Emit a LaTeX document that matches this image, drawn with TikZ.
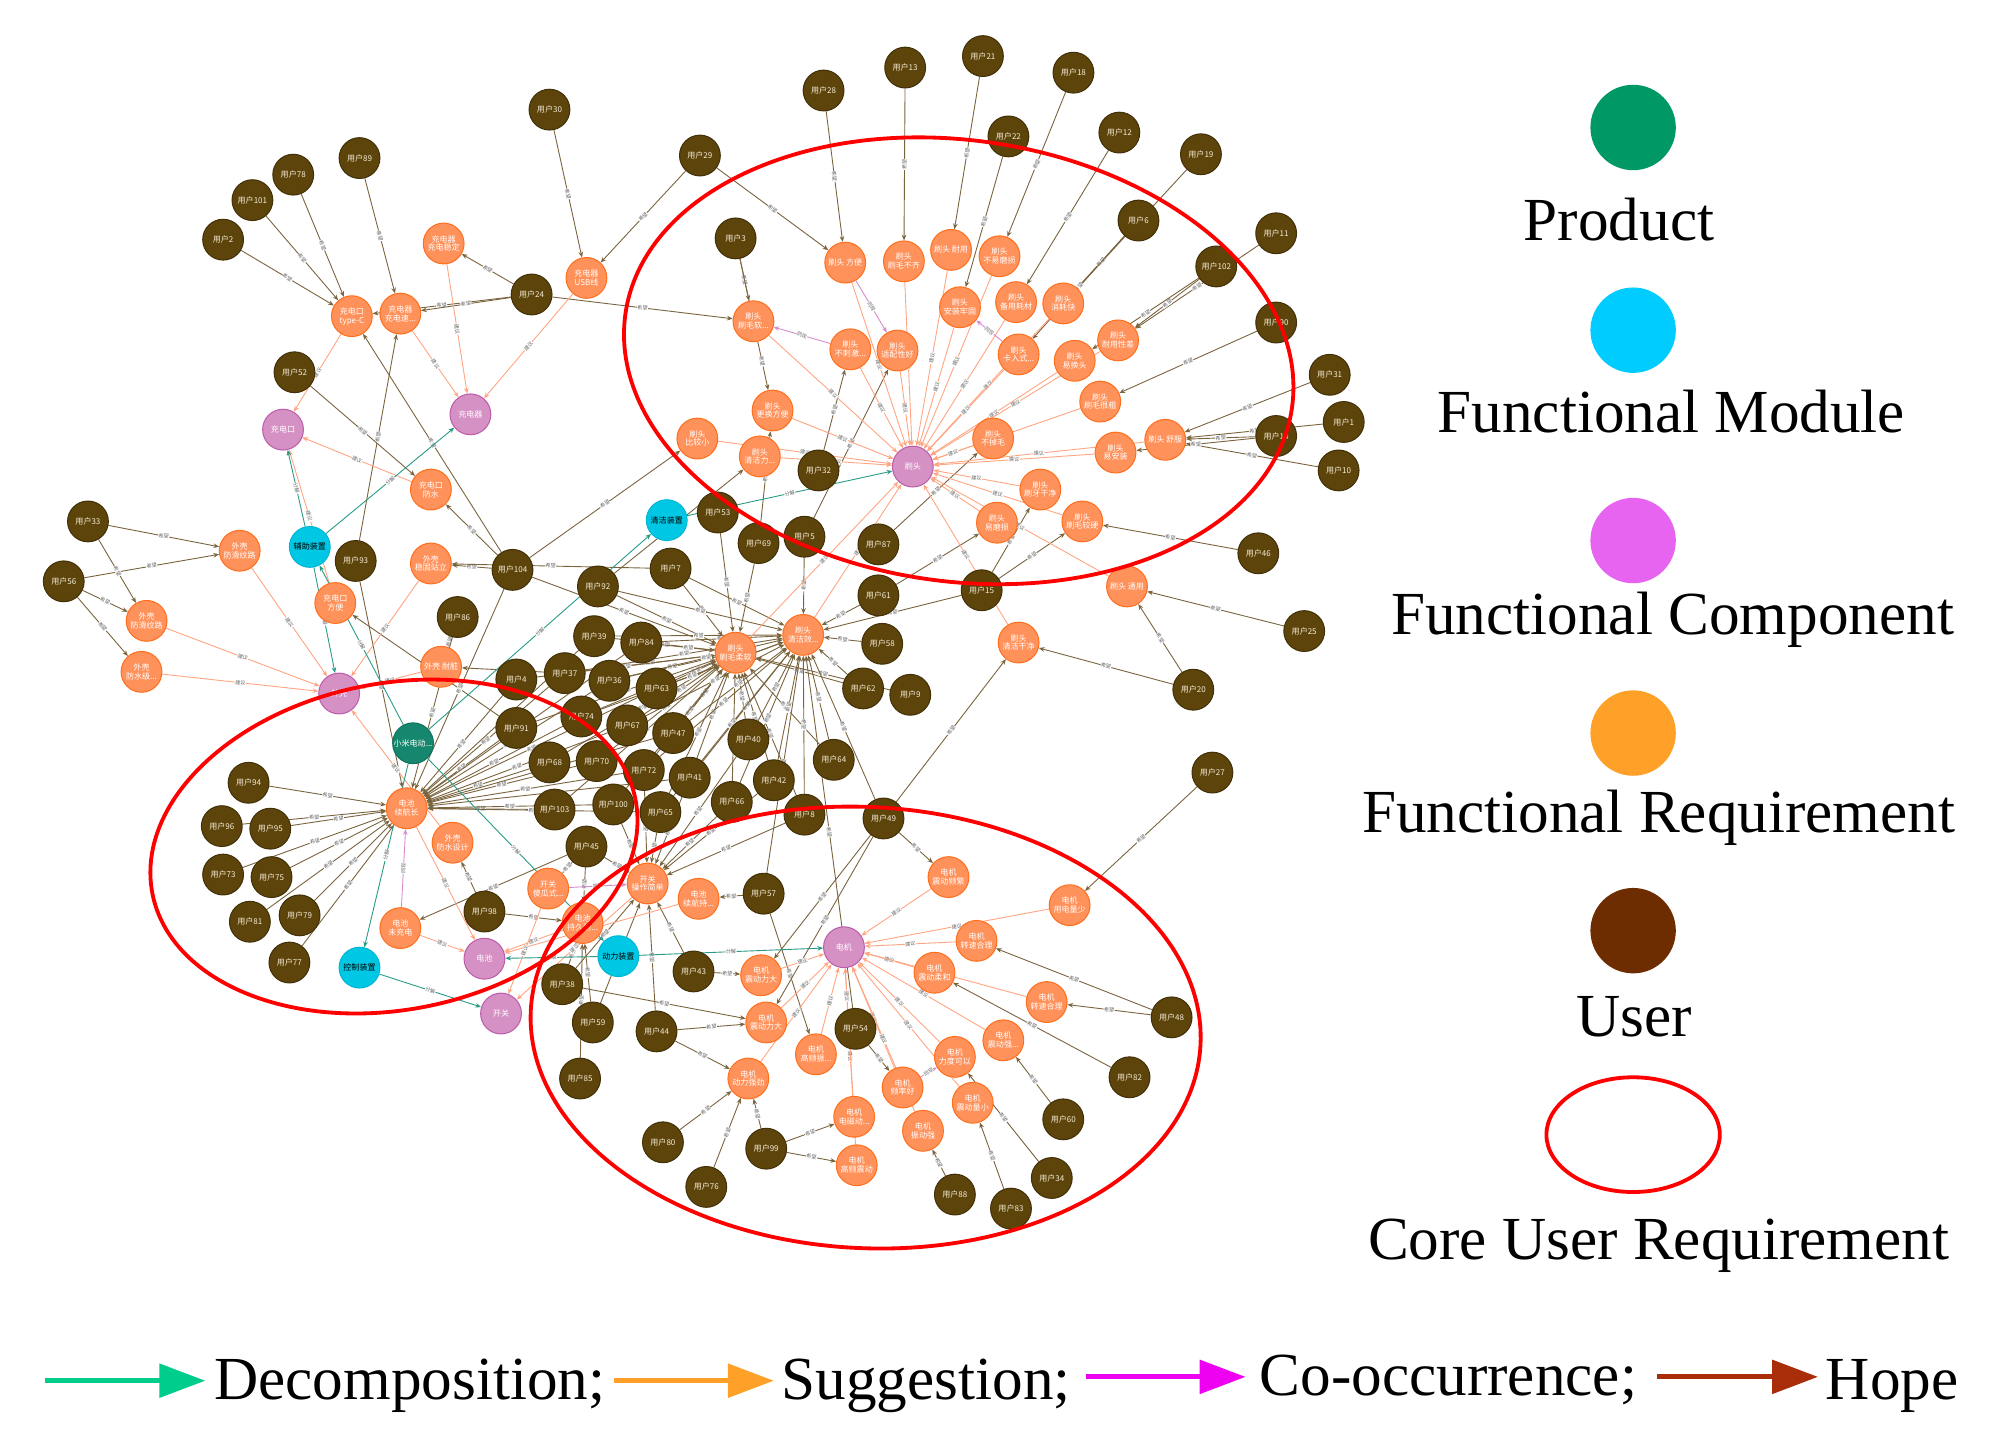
\documentclass[tikz,border=0pt]{standalone}
\usepackage{fontspec}
\setmainfont{Liberation Serif}
\newfontfamily\cjk{Noto Sans CJK SC}
\usetikzlibrary{arrows.meta,backgrounds}
\definecolor{uFill}{RGB}{93,68,11}
\definecolor{uDraw}{RGB}{66,48,8}
\definecolor{uText}{RGB}{245,236,215}
\definecolor{rFill}{RGB}{255,145,90}
\definecolor{rDraw}{RGB}{255,112,30}
\definecolor{cFill}{RGB}{214,145,196}
\definecolor{cDraw}{RGB}{188,92,170}
\definecolor{mFill}{RGB}{0,200,228}
\definecolor{mDraw}{RGB}{0,182,212}
\definecolor{pFill}{RGB}{22,135,110}
\definecolor{pDraw}{RGB}{15,115,95}
\definecolor{hopeC}{RGB}{122,100,62}
\definecolor{sugC}{RGB}{255,165,130}
\definecolor{decC}{RGB}{40,155,135}
\definecolor{cooC}{RGB}{216,140,208}
\definecolor{labC}{RGB}{105,105,105}
\definecolor{prodL}{RGB}{0,153,102}
\definecolor{modL}{RGB}{0,204,255}
\definecolor{compL}{RGB}{230,100,240}
\definecolor{reqL}{RGB}{255,160,40}
\definecolor{userL}{RGB}{110,45,0}
\definecolor{decA}{RGB}{0,204,140}
\definecolor{sugA}{RGB}{255,160,40}
\definecolor{cooA}{RGB}{238,0,240}
\definecolor{hopeA}{RGB}{170,45,10}
\begin{document}
\begin{tikzpicture}[x=1pt,y=-1pt,
  base/.style={circle, minimum size=32pt, inner sep=0pt, align=center,
    font=\cjk\fontsize{6.3}{6.9}\selectfont, line width=0.8pt},
  user/.style={base, fill=uFill, draw=uDraw, text=uText},
  req/.style={base, fill=rFill, draw=rDraw, text=white},
  comp/.style={base, fill=cFill, draw=cDraw, text=white},
  modu/.style={base, fill=mFill, draw=mDraw, text=black},
  prodn/.style={base, fill=pFill, draw=pDraw, text=white},
  hopeE/.style={draw=hopeC, line width=0.7pt, -{Stealth[length=4.5pt,width=3.6pt]}},
  sugE/.style={draw=sugC, line width=0.7pt, -{Stealth[length=4.5pt,width=3.6pt]}},
  decE/.style={draw=decC, line width=0.7pt, -{Stealth[length=4.5pt,width=3.6pt]}},
  cooE/.style={draw=cooC, line width=0.7pt, -{Stealth[length=4.5pt,width=3.6pt]}},
  elab/.style={font=\cjk\fontsize{4}{4}\selectfont, text=labC, fill=white, inner sep=0.3pt, sloped},
  core/.style={draw=red, line width=3pt},
  legtxt/.style={font=\fontsize{48}{56}\selectfont, inner sep=0pt},
  legarrow/.style={line width=4pt, -{Triangle[length=36pt,width=26pt]}}
]
\useasboundingbox (0,0) rectangle (1568,1131);

% ---------------- users ----------------
\foreach \nn/\px/\py in {1/1054/331, 2/175/188, 3/577/187, 4/405/533, 5/631/421, 6/893/173,
  7/526/446, 8/631/639, 9/714/545, 10/1050/369, 11/1001/183, 12/878/104, 13/710/53,
  15/770/463, 18/842/57, 19/942/121, 20/936/541, 21/771/44, 22/791/107, 24/417/231,
  25/1023/495, 27/951/606, 28/646/71, 29/549/122, 30/431/86, 31/1043/294, 32/642/369,
  33/69/409, 34/825/924, 36/478/534, 37/443/528, 38/441/772, 39/466/499, 40/587/580,
  41/541/610, 42/607/612, 43/544/762, 44/515/809, 45/460/664, 46/987/434, 47/528/575,
  48/919/798, 49/693/642, 52/231/292, 54/671/807, 56/50/456, 57/599/701, 58/692/505,
  59/465/802, 60/834/878, 61/689/467, 62/677/540, 63/515/540, 64/654/596, 65/518/637,
  66/574/629, 67/492/569, 68/431/598, 69/595/426, 70/468/597, 72/505/604, 73/175/686,
  74/456/562, 75/213/688, 76/554/931, 77/227/755, 78/230/137, 79/235/718, 80/520/896,
  81/196/723, 82/886/845, 83/793/948, 84/503/504, 85/455/846, 86/359/484, 87/689/427,
  88/749/937, 89/282/124, 91/405/571, 92/469/460, 93/279/440, 94/195/614, 95/212/650,
  96/174/648, 98/380/715, 99/601/901, 100/481/631, 101/198/157, 102/954/209,
  103/435/635, 104/402/447}
  \node[user] (u\nn) at (\px,\py) {用户\nn};
\node[user] (ua) at (1001,253) {用户90};
\node[user] (uc) at (1001,342) {用户14};
\node[user] (ub) at (563,402) {用户53};

% ---------------- functional requirements ----------------
\node[req] (cfw) at (348,191) {充电器\\充电稳定};
\node[req] (usb) at (460,218) {充电器\\USB线};
\node[req] (tpc) at (276,248) {充电口\\type-C};
\node[req] (cds) at (314,246) {充电器\\充电速...};
\node[req] (cfs) at (338,384) {充电口\\防水};
\node[req] (fh1) at (188,432) {外壳\\防滑纹路};
\node[req] (fh2) at (115,487) {外壳\\防滑纹路};
\node[req] (fsj) at (111,527) {外壳\\防水级...};
\node[req] (cfb) at (263,473) {充电口\\方便};
\node[req] (wgz) at (338,442) {外壳\\稳固站立};
\node[req] (wnz) at (346,523) {外壳 耐脏};
\node[req] (dxh) at (319,634) {电池\\续航长};
\node[req] (wfs) at (355,661) {外壳\\防水设计};
\node[req] (dwc) at (314,728) {电池\\未充电};
\node[req] (ksg) at (430,697) {开关\\傻瓜式...};
\node[req] (dcj) at (457,724) {电池\\持久耐...};
\node[req] (kcz) at (508,693) {开关\\操作简单};
\node[req] (dxc) at (548,705) {电池\\续航持...};
\node[req] (srr) at (577,512) {刷头\\刷毛柔软};
\node[req] (sqx) at (630,498) {刷头\\清洁效...};
\node[req] (sqg) at (799,504) {刷头\\清洁干净};
\node[req] (sty) at (884,460) {刷头 通用};
\node[req] (srs) at (591,252) {刷头\\刷毛软...};
\node[req] (sfb) at (663,206) {刷头 方便};
\node[req] (sbq) at (709,205) {刷头\\刷毛不齐};
\node[req] (sny) at (746,196) {刷头 耐用};
\node[req] (sbm) at (784,201) {刷头\\不易磨损};
\node[req] (saz) at (753,241) {刷头\\安装牢固};
\node[req] (sby) at (797,237) {刷头\\备用耗材};
\node[req] (sxh) at (834,238) {刷头\\消耗快};
\node[req] (sbc) at (667,274) {刷头\\不刺激...};
\node[req] (ssp) at (704,275) {刷头\\适配性好};
\node[req] (skr) at (799,278) {刷头\\卡入式...};
\node[req] (syh) at (843,283) {刷头\\易换头};
\node[req] (snc) at (877,267) {刷头\\耐用性差};
\node[req] (smc) at (863,315) {刷头\\刷毛很粗};
\node[req] (ssf) at (914,345) {刷头 舒服};
\node[req] (syz) at (875,355) {刷头\\易安装};
\node[req] (sbd) at (779,344) {刷头\\不掉毛};
\node[req] (syg) at (816,384) {刷头\\刷牙干净};
\node[req] (sym) at (782,410) {刷头\\易磨损};
\node[req] (sjy) at (849,409) {刷头\\刷毛较硬};
\node[req] (sbj) at (547,344) {刷头\\比较小};
\node[req] (sql) at (596,358) {刷头\\清洁力...};
\node[req] (sgh) at (606,322) {刷头\\更换方便};
\node[req] (jpf) at (744,688) {电机\\震动频繁};
\node[req] (jyd) at (839,710) {电机\\用电量少};
\node[req] (jz1) at (766,738) {电机\\转速合理};
\node[req] (jrh) at (733,763) {电机\\震动柔和};
\node[req] (jz2) at (821,786) {电机\\转速合理};
\node[req] (jzq) at (787,816) {电机\\震动强...};
\node[req] (jd1) at (597,765) {电机\\震动力大};
\node[req] (jd2) at (601,802) {电机\\震动力大};
\node[req] (jgz) at (640,827) {电机\\高频振...};
\node[req] (jdl) at (587,846) {电机\\动力强劲};
\node[req] (jdc) at (670,876) {电机\\电磁动...};
\node[req] (jgp) at (672,914) {电机\\高频震动};
\node[req] (jpl) at (708,853) {电机\\频率好};
\node[req] (jzd) at (724,887) {电机\\振动强};
\node[req] (jld) at (749,829) {电机\\力度可以};
\node[req] (jlx) at (763,865) {电机\\震动量小};

% ---------------- components, modules, product ----------------
\node[comp] (pcq) at (369,325) {充电器};
\node[comp] (pck) at (222,337) {充电口};
\node[comp] (pwk) at (266,544) {外壳};
\node[comp] (pst) at (716,366) {刷头};
\node[comp] (pdc) at (380,752) {电池};
\node[comp] (pkg) at (393,795) {开关};
\node[comp] (pdj) at (662,743) {电机};
\node[modu] (mfz) at (243,429) {辅助装置};
\node[modu] (mqj) at (523,408) {清洁装置};
\node[modu] (mkz) at (282,759) {控制装置};
\node[modu] (mdl) at (485,750) {动力装置};
\node[prodn] (prod) at (324,583) {小米电动...};

% ---------------- connectors ----------------
\begin{pgfonlayer}{background}
\fill[white] (0,0) rectangle (1568,1131);
% hope
\foreach \a/\b in {u2/tpc, u101/tpc, u78/tpc, u24/tpc, u104/tpc, u89/cds, u24/cds, u93/cds,
  u24/cfw, u30/usb, u29/usb, u52/cfs, u104/cfs, u24/srs, u33/fh1, u56/fh1, u33/fh2, u56/fh2,
  u56/fsj, u104/wgz, u7/wgz, u37/wnz, u86/wnz, u98/wfs, u91/cfb,
  u45/dwc, u45/ksg, u45/dcj, u98/dcj, u59/dcj, u38/dcj, u57/dxc, u85/dcj,
  u28/sfb, u29/sfb, u13/sbq, u21/sny, u22/saz, u18/sbm, u12/sby, u19/sxh, u6/sxh, u6/skr,
  u11/snc, u102/snc, u102/syh, ua/smc, u31/ssf, u1/ssf, uc/ssf, u10/ssf, uc/syz, u46/sjy,
  u15/sjy, u15/syg, u61/sym, u87/sbd, u25/sty, u20/sty, u20/sqg, u49/sqg, u3/srs,
  u104/sbj, u92/sql, u69/sgh, u32/sbc, u5/ssp,
  u49/jpf, u27/jyd, u48/jz1, u48/jz2, u82/jrh, u60/jzq, u34/jld, u83/jlx, u88/jzd, u54/jpl,
  u99/jdc, u99/jgp, u99/jdl, u80/jdl, u76/jdl, u44/jdl, u57/jgz, u43/jd1, u49/jd1, u44/jd2,
  u38/jd2, u49/jd2}
  \draw[hopeE] (\a) -- node[elab]{希望} (\b);
\draw[hopeE] (u3) -- node[elab, pos=0.78]{希望} (sgh);
\foreach \a in {u94,u96,u95,u73,u75,u81,u79,u77,u104,u93,u4,u91,u68,u103,u100,u74,u70,u37,
  u36,u63,u67,u72,u47,u65,u41,u39,u84,u86}
  \draw[hopeE] (\a) -- node[elab]{希望} (dxh);
\foreach \a in {u43,u44,u38,u59,u65,u41,u66,u8,u42,u40,u100,u72,u45}
  \draw[hopeE] (\a) -- node[elab]{希望} (kcz);
\foreach \a in {u92,u7,u39,u84,u37,u36,u63,u74,u67,u47,u70,u72,u41,u65,u100,u103,u68,u91,
  u4,u40,u42,u66,u64,u8,ub,u69,u62,u9,u104}
  \draw[hopeE] (\a) -- node[elab]{希望} (srr);
\foreach \a in {u92,u7,u39,u84,u63,u36,u67,u47,u72,u41,u65,u40,u42,u64,u8,u49,u5,u61,u58,
  u62,u15,u66,u74,u37,u54,u57}
  \draw[hopeE] (\a) -- node[elab]{希望} (sqx);
% suggestion
\foreach \a/\b in {tpc/pck, cfs/pck, cfb/pck, cds/pcq, cfw/pcq, usb/pcq,
  fh1/pwk, fh2/pwk, fsj/pwk, wgz/pwk, wnz/pwk, wfs/pwk,
  dxh/pdc, dwc/pdc, dcj/pdc, dxc/pdc, ksg/pkg, kcz/pkg}
  \draw[sugE] (\a) -- node[elab]{建议} (\b);
\foreach \a in {srs,sfb,sbq,sny,sbm,saz,sby,sxh,sbc,ssp,skr,syh,snc,smc,ssf,syz,sbd,syg,
  sym,sjy,sbj,sql,sgh,srr,sqx,sqg,sty}
  \draw[sugE] (\a) -- node[elab]{建议} (pst);
\foreach \a in {jpf,jyd,jz1,jrh,jz2,jzq,jd1,jd2,jgz,jdl,jgp,jpl,jzd,jld,jlx}
  \draw[sugE] (\a) -- node[elab]{建议} (pdj);
\draw[sugE] (jdc) -- node[elab, pos=0.78]{建议} (pdj);
% decomposition
\foreach \a/\b in {prod/mfz, prod/mqj, prod/mkz, prod/mdl, mfz/pcq, mfz/pck, mfz/pwk,
  mqj/pst, mkz/pkg, mdl/pdc, mdl/pdj}
  \draw[decE] (\a) -- node[elab]{分解} (\b);
% co-occurrence
\foreach \a/\b in {sfb/ssp, sbc/srs, skr/saz, dwc/dxh, ksg/kcz, jpl/jld}
  \draw[cooE] (\a) -- node[elab]{同现} (\b);
\end{pgfonlayer}

% ---------------- core user requirement ellipses ----------------
\draw[core] (752,283) ellipse [x radius=264, y radius=173, rotate=-8];
\draw[core] (309,664) ellipse [x radius=193, y radius=128, rotate=11];
\draw[core] (679,806) ellipse [x radius=263, y radius=173, rotate=-3];

% ---------------- legend ----------------
\node[circle, minimum size=67pt, inner sep=0pt, fill=prodL] (lg1) at (1281,100) {};
\node[legtxt, anchor=base] (lt1) at (1270,189) {Product};
\node[circle, minimum size=67pt, inner sep=0pt, fill=modL] (lg2) at (1281,259) {};
\node[legtxt, anchor=base] (lt2) at (1311,339) {Functional Module};
\node[circle, minimum size=67pt, inner sep=0pt, fill=compL] (lg3) at (1281,424) {};
\node[legtxt, anchor=base] (lt3) at (1312,498) {Functional Component};
\node[circle, minimum size=67pt, inner sep=0pt, fill=reqL] (lg4) at (1281,575) {};
\node[legtxt, anchor=base] (lt4) at (1301,653) {Functional Requirement};
\node[circle, minimum size=67pt, inner sep=0pt, fill=userL] (lg5) at (1281,730) {};
\node[legtxt, anchor=base] (lt5) at (1282,813) {User};
\draw[core] (1281,890) ellipse [x radius=68, y radius=45];
\node[legtxt, anchor=base] (lt6) at (1301,988) {Core User Requirement};

\coordinate (a1s) at (35,1083);   \coordinate (a1e) at (161,1083);
\coordinate (a2s) at (482,1083);  \coordinate (a2e) at (607,1083);
\coordinate (a3s) at (852,1080);  \coordinate (a3e) at (977,1080);
\coordinate (a4s) at (1300,1080); \coordinate (a4e) at (1426,1080);
\draw[legarrow, decA] (a1s) -- (a1e);
\draw[legarrow, sugA] (a2s) -- (a2e);
\draw[legarrow, cooA] (a3s) -- (a3e);
\draw[legarrow, hopeA] (a4s) -- (a4e);
\node[legtxt, anchor=base west] (b1) at (168,1098) {Decomposition;};
\node[legtxt, anchor=base west] (b2) at (613,1098) {Suggestion;};
\node[legtxt, anchor=base west] (b3) at (988,1095) {Co-occurrence;};
\node[legtxt, anchor=base west] (b4) at (1432,1098) {Hope};
\end{tikzpicture}
\end{document}
